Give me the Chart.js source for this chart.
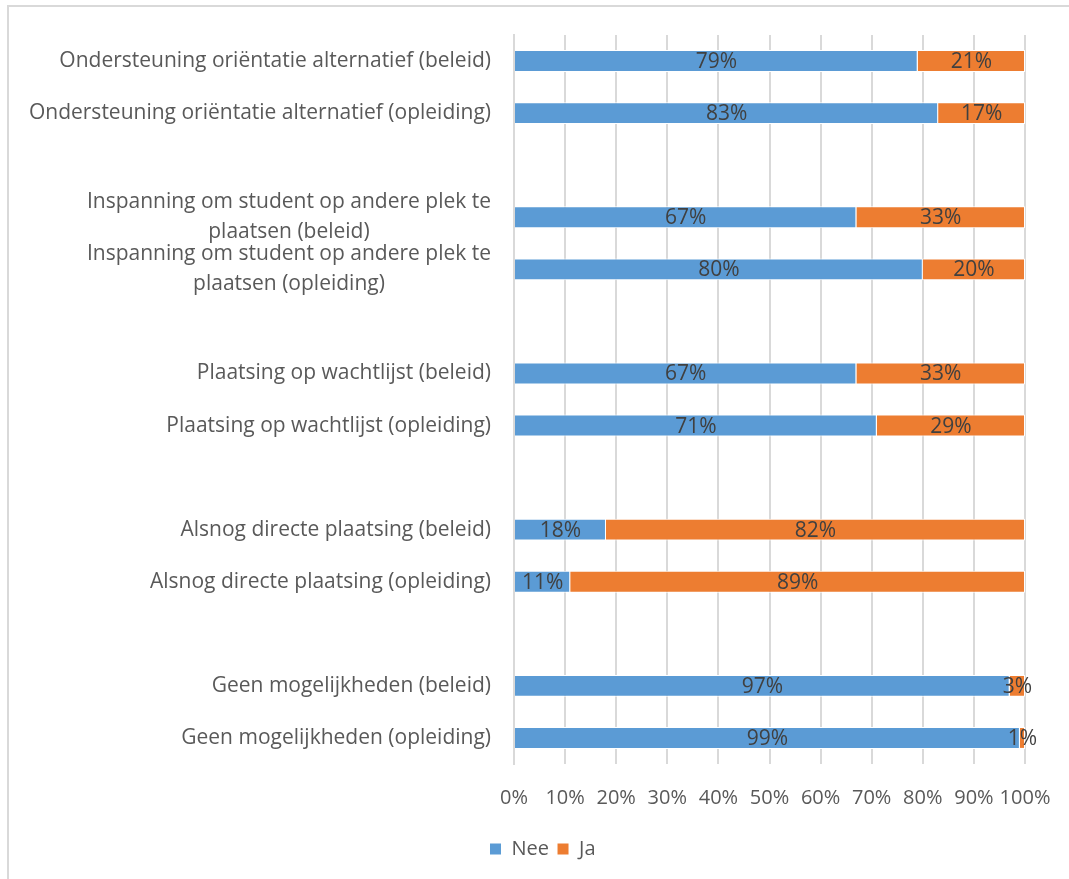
<!DOCTYPE html>
<html>
<head>
<meta charset="utf-8">
<script src="https://cdn.jsdelivr.net/npm/chart.js@4/dist/chart.umd.min.js"></script>
<style>
    html, body { margin: 0; padding: 0; background: #fff; }
    #wrap { width: 1069px; height: 879px; position: relative; }
</style>
</head>
<body>
<div id="wrap"><canvas id="chart" width="1069" height="879"></canvas></div>
<script>
// categories (empty strings are the gaps between groups)
var categories = [
    ['Ondersteuning oriëntatie alternatief (beleid)'],
    ['Ondersteuning oriëntatie alternatief (opleiding)'],
    [''],
    ['Inspanning om student op andere plek te', 'plaatsen (beleid)'],
    ['Inspanning om student op andere plek te', 'plaatsen (opleiding)'],
    [''],
    ['Plaatsing op wachtlijst (beleid)'],
    ['Plaatsing op wachtlijst (opleiding)'],
    [''],
    ['Alsnog directe plaatsing (beleid)'],
    ['Alsnog directe plaatsing (opleiding)'],
    [''],
    ['Geen mogelijkheden (beleid)'],
    ['Geen mogelijkheden (opleiding)']
];
var neeValues = [79, 83, null, 67, 80, null, 67, 71, null, 18, 11, null, 97, 99];
var jaValues  = [21, 17, null, 33, 20, null, 33, 29, null, 82, 89, null, 3, 1];
var xTicks = [0, 10, 20, 30, 40, 50, 60, 70, 80, 90, 100];

var FONT = '"Open Sans", sans-serif';
var TEXT = '#595959';

// light frame on the top and left like the original picture
var framePlugin = {
    id: 'frame',
    beforeDraw: function (chart) {
        var ctx = chart.ctx;
        ctx.save();
        ctx.fillStyle = '#fff';
        ctx.fillRect(0, 0, chart.width, chart.height);
        ctx.strokeStyle = '#d9d9d9';
        ctx.lineWidth = 2;
        ctx.beginPath();
        ctx.moveTo(8, chart.height);
        ctx.lineTo(8, 6);
        ctx.lineTo(chart.width, 6);
        ctx.stroke();
        ctx.restore();
    }
};

// category labels: right aligned block, lines centered inside the block
var yLabelPlugin = {
    id: 'yLabels',
    afterDraw: function (chart) {
        var ctx = chart.ctx;
        var scale = chart.scales.y;
        var right = chart.chartArea.left - 23;
        var lineH = 30;
        ctx.save();
        ctx.font = '21px ' + FONT;
        ctx.fillStyle = TEXT;
        ctx.textBaseline = 'middle';
        ctx.textAlign = 'center';
        categories.forEach(function (lines, i) {
            var y = scale.getPixelForTick(i);
            var maxW = 0;
            lines.forEach(function (l) { maxW = Math.max(maxW, ctx.measureText(l).width); });
            var cx = right - maxW / 2;
            var y0 = y - (lines.length - 1) * lineH / 2;
            lines.forEach(function (l, k) {
                ctx.fillText(l, cx, y0 + k * lineH);
            });
        });
        ctx.restore();
    }
};

// value labels in the middle of every segment
var valuePlugin = {
    id: 'values',
    afterDatasetsDraw: function (chart) {
        var ctx = chart.ctx;
        ctx.save();
        ctx.font = '21px ' + FONT;
        ctx.fillStyle = '#404040';
        ctx.textAlign = 'center';
        ctx.textBaseline = 'middle';
        chart.data.datasets.forEach(function (ds, di) {
            chart.getDatasetMeta(di).data.forEach(function (bar, i) {
                var v = ds.data[i];
                if (v === null || v === undefined) return;
                ctx.fillText(v + '%', (bar.x + bar.base) / 2, bar.y + 1);
            });
        });
        ctx.restore();
    }
};

new Chart(document.getElementById('chart').getContext('2d'), {
    type: 'bar',
    data: {
        labels: categories,
        datasets: [
            {
                label: 'Nee',
                data: neeValues,
                backgroundColor: '#5b9bd5',
                borderColor: '#ffffff',
                borderWidth: 1,
                barPercentage: 0.42,
                categoryPercentage: 1
            },
            {
                label: 'Ja',
                data: jaValues,
                backgroundColor: '#ed7d31',
                borderColor: '#ffffff',
                borderWidth: 1,
                barPercentage: 0.42,
                categoryPercentage: 1
            }
        ]
    },
    options: {
        indexAxis: 'y',
        responsive: false,
        animation: false,
        layout: { padding: { left: 60, right: 44, top: 35, bottom: 10 } },
        scales: {
            x: {
                stacked: true,
                min: 0,
                max: 100,
                afterBuildTicks: function (scale) {
                    scale.ticks = xTicks.map(function (v) { return { value: v }; });
                },
                afterFit: function (scale) {
                    scale.height = 67;
                    scale.paddingLeft = 0;
                    scale.paddingRight = 0;
                },
                grid: { color: '#d9d9d9', lineWidth: 2, drawTicks: false },
                border: { display: false },
                ticks: {
                    padding: 22,
                    autoSkip: false,
                    color: TEXT,
                    font: { family: FONT, size: 20 },
                    maxRotation: 0,
                    callback: function (v) { return v + '%'; }
                }
            },
            y: {
                stacked: true,
                afterFit: function (scale) { scale.width = 454; },
                grid: { display: false },
                border: { display: true, color: '#d9d9d9', width: 2 },
                ticks: { display: false }
            }
        },
        plugins: {
            legend: {
                position: 'bottom',
                labels: {
                    boxWidth: 12,
                    boxHeight: 12,
                    padding: 8,
                    color: TEXT,
                    font: { family: FONT, size: 20 }
                }
            },
            tooltip: { enabled: false }
        }
    },
    plugins: [framePlugin, yLabelPlugin, valuePlugin]
});
</script>
</body>
</html>
